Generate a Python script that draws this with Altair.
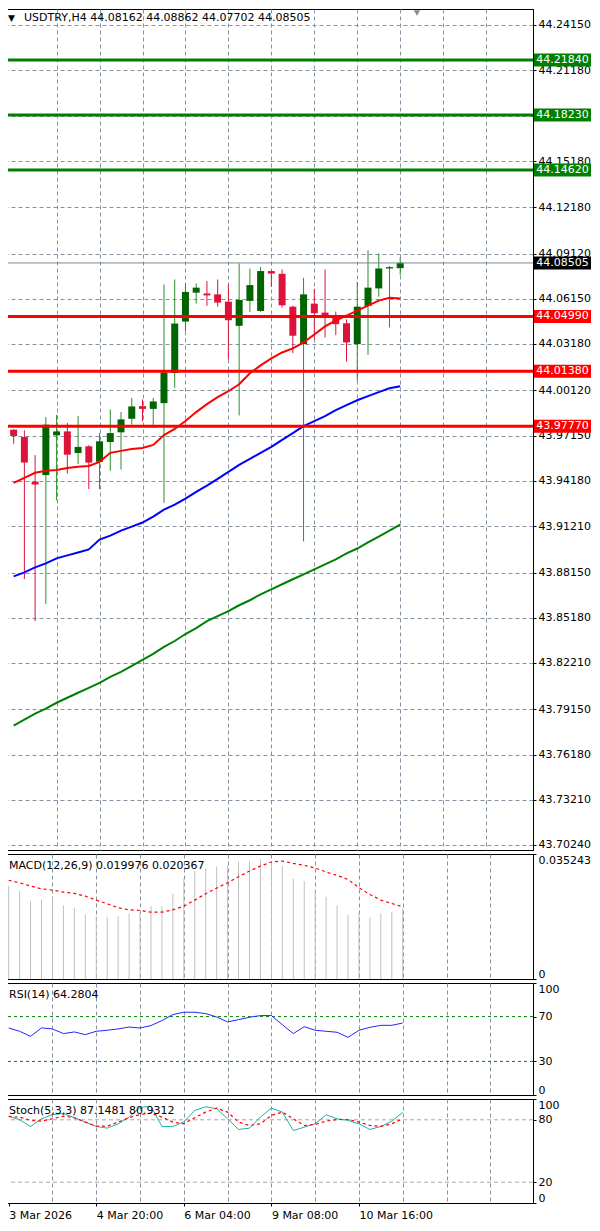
import altair as alt
import pandas as pd

# ---- candles (USDTRY H4) ----
OPEN = [43.9754, 43.9706, 43.9412, 43.9456, 43.9717, 43.9743, 43.9601, 43.9645, 43.9543, 43.9673,
        43.9737, 43.9826, 43.9909, 43.9891, 43.9929, 44.0127, 44.0465, 44.0655, 44.0650, 44.0644,
        44.0596, 44.0437, 44.0601, 44.0535, 44.0797, 44.0779, 44.0563, 44.0317, 44.0583, 44.0524,
        44.0498, 44.0454, 44.0317, 44.0568, 44.0683, 44.0814, 44.08162]
HIGH = [43.9759, 43.9750, 43.9587, 43.9837, 43.9852, 43.9798, 43.9844, 43.9652, 43.9732, 43.9887,
        43.9870, 43.9963, 43.9953, 43.9963, 44.0709, 44.0742, 44.0714, 44.0716, 44.0731, 44.0742,
        44.0709, 44.0847, 44.0814, 44.0825, 44.0801, 44.0807, 44.0570, 44.0753, 44.0681, 44.0807,
        44.0531, 44.0480, 44.0725, 44.0934, 44.0912, 44.0830, 44.08862]
LOW = [43.9662, 43.8772, 43.8496, 43.8609, 43.9289, 43.9466, 43.9528, 43.9364, 43.9364, 43.9484,
       43.9492, 43.9787, 43.9809, 43.9767, 43.9274, 44.0029, 44.0400, 44.0583, 44.0568, 44.0563,
       44.0215, 43.9848, 44.0529, 44.0529, 44.0694, 44.0557, 44.0258, 43.9019, 44.0349, 44.0361,
       44.0376, 44.0202, 44.0077, 44.0245, 44.0629, 44.0426, 44.07702]
CLOSE = [43.9713, 43.9538, 43.9394, 43.9787, 43.9743, 43.9590, 43.9641, 43.9538, 43.9678, 43.9732,
         43.9822, 43.9907, 43.9891, 43.9940, 44.0131, 44.0452, 44.0660, 44.0688, 44.0637, 44.0590,
         44.0474, 44.0607, 44.0705, 44.0797, 44.0781, 44.0572, 44.0372, 44.0644, 44.0520, 44.0491,
         44.0448, 44.0328, 44.0563, 44.0688, 44.0814, 44.0823, 44.08505]

# moving averages
MA_RED = [43.9405, 43.9438, 43.9471, 43.9484, 43.9490, 43.9503, 43.9510, 43.9516, 43.9543, 43.9602,
          43.9615, 43.9628, 43.9634, 43.9654, 43.9719, 43.9759, 43.9811, 43.9870, 43.9922, 43.9968,
          44.0007, 44.0053, 44.0125, 44.0177, 44.0223, 44.0262, 44.0289, 44.0328, 44.0380, 44.0433,
          44.0472, 44.0504, 44.0537, 44.0570, 44.0603, 44.0622, 44.0616]
MA_BLUE = [43.8790, 43.8816, 43.8849, 43.8875, 43.8908, 43.8928, 43.8947, 43.8967, 43.9032, 43.9058,
           43.9091, 43.9117, 43.9144, 43.9183, 43.9229, 43.9261, 43.9301, 43.9346, 43.9386, 43.9431,
           43.9477, 43.9523, 43.9562, 43.9602, 43.9641, 43.9687, 43.9732, 43.9778, 43.9811, 43.9844,
           43.9883, 43.9916, 43.9948, 43.9975, 44.0001, 44.0027, 44.0040]
MA_GREEN = [43.7809, 43.7848, 43.7887, 43.7920, 43.7959, 43.7992, 43.8025, 43.8057, 43.8090, 43.8129,
            43.8162, 43.8201, 43.8241, 43.8280, 43.8326, 43.8365, 43.8411, 43.8450, 43.8496, 43.8528,
            43.8561, 43.8600, 43.8633, 43.8672, 43.8705, 43.8738, 43.8771, 43.8803, 43.8836, 43.8869,
            43.8901, 43.8941, 43.8973, 43.9013, 43.9052, 43.9091, 43.9130]

# horizontal levels
RESISTANCE = [44.2184, 44.1823, 44.1462]
SUPPORT = [44.0499, 44.0138, 43.9777]
LAST_PRICE = 44.08505

# indicators
MACD_HIST = [0.0262, 0.02478, 0.02196, 0.02243, 0.02290, 0.02073, 0.02007, 0.01809, 0.01772, 0.01743,
             0.01772, 0.01847, 0.01885, 0.02054, 0.02054, 0.02403, 0.02827, 0.03044, 0.03119, 0.03166,
             0.03213, 0.03307, 0.03326, 0.03373, 0.03326, 0.03185, 0.02827, 0.02761, 0.02525, 0.02318,
             0.02073, 0.01809, 0.01866, 0.01734, 0.01847, 0.01894, 0.019976]
MACD_SIGNAL = [0.02780, 0.02714, 0.02620, 0.02544, 0.02506, 0.02450, 0.02412, 0.02337, 0.02224, 0.02120,
               0.02007, 0.01951, 0.01932, 0.01885, 0.01885, 0.01951, 0.02054, 0.02224, 0.02403, 0.02563,
               0.02714, 0.02884, 0.03044, 0.03185, 0.03298, 0.03326, 0.03260, 0.03204, 0.03128, 0.03015,
               0.02921, 0.02808, 0.02572, 0.02384, 0.02224, 0.02130, 0.020367]
RSI = [59.8, 56.9, 52.4, 59.9, 59.0, 54.8, 56.3, 53.9, 56.9, 57.8,
       59.0, 60.7, 59.8, 62.0, 66.4, 71.8, 73.9, 73.9, 72.7, 69.7,
       65.2, 67.3, 69.4, 70.9, 70.9, 62.8, 54.8, 61.0, 57.8, 56.9,
       56.0, 51.5, 57.8, 60.4, 62.2, 62.2, 64.28]
STOCH_MAIN = [83.5, 80.0, 73.6, 81.0, 85.0, 86.0, 82.0, 77.8, 73.6, 72.0,
              76.0, 82.6, 92.0, 93.0, 73.6, 73.6, 78.0, 89.0, 92.5, 90.6,
              81.0, 70.7, 72.0, 82.6, 91.2, 87.4, 69.7, 72.9, 76.2, 84.8,
              81.0, 79.4, 76.2, 70.7, 73.6, 78.7, 87.15]
STOCH_SIGNAL = [83.2, 82.6, 79.4, 78.7, 81.0, 83.5, 82.0, 77.8, 73.9, 73.9,
                77.8, 82.0, 85.1, 86.4, 82.6, 77.8, 76.2, 82.0, 87.4, 91.2,
                87.4, 77.8, 74.5, 76.2, 84.2, 87.4, 81.0, 74.5, 75.5, 78.7,
                80.3, 80.3, 77.8, 74.5, 73.6, 76.2, 80.93]

PRICE_TICKS = [44.2415, 44.2118, 44.1815, 44.1518, 44.1218, 44.0912, 44.0615, 44.0318, 44.0012,
               43.9715, 43.9418, 43.9121, 43.8815, 43.8518, 43.8221, 43.7915, 43.7618, 43.7321, 43.7024]
TIME_LABELS = {0: "3 Mar 2026", 8: "4 Mar 20:00", 16: "6 Mar 04:00", 24: "9 Mar 08:00", 32: "10 Mar 16:00"}

HEADER = "USDTRY,H4  44.08162 44.08862 44.07702 44.08505"
MACD_TITLE = "MACD(12,26,9) 0.019976 0.020367"
RSI_TITLE = "RSI(14) 64.2804"
STOCH_TITLE = "Stoch(5,3,3) 87.1481 80.9312"

# ---- layout / style ----
W = 526
H_MAIN, H_MACD, H_RSI, H_STOCH = 841, 125, 112, 104
X_DOMAIN = [-0.153, 47.9]
PRICE_DOMAIN = [43.6991, 44.2520]
FONT = "DejaVu Sans"
GRID = "#8592A0"
GRID_X = list(range(4, 48, 4))
UP_WICK, UP_BODY, DOWN = "#2A8F2A", "#006400", "#DC143C"
BOX_W = 57
BOX_PATH = "M-1,-0.228L1,-0.228L1,0.228L-1,0.228Z"

n = len(OPEN)
idx = list(range(n))

candles = pd.DataFrame({"i": idx, "open": OPEN, "high": HIGH, "low": LOW, "close": CLOSE})
candles["dir"] = ["up" if c >= o else "down" for o, c in zip(OPEN, CLOSE)]

ma = pd.concat([
    pd.DataFrame({"i": idx, "v": MA_RED, "ma": "red"}),
    pd.DataFrame({"i": idx, "v": MA_BLUE, "ma": "blue"}),
    pd.DataFrame({"i": idx, "v": MA_GREEN, "ma": "green"}),
])

levels = pd.DataFrame({
    "p": RESISTANCE + SUPPORT + [LAST_PRICE],
    "kind": ["res"] * len(RESISTANCE) + ["sup"] * len(SUPPORT) + ["cur"],
})
levels["label"] = [f"{p:.5f}" for p in levels["p"]]

ind = pd.DataFrame({"i": idx, "hist": MACD_HIST, "sig": MACD_SIGNAL, "rsi": RSI,
                    "k": STOCH_MAIN, "d": STOCH_SIGNAL})

x_scale = alt.Scale(domain=X_DOMAIN, nice=False, zero=False)
grid_axis = alt.Axis(values=GRID_X, grid=True, labels=False, ticks=False, domain=False,
                     gridDash=[4, 3], gridColor=GRID, gridWidth=1, title=None)


def X(axis=grid_axis):
    return alt.X("i:Q", scale=x_scale, axis=axis)


# ---- main price panel ----
p_scale = alt.Scale(domain=PRICE_DOMAIN, nice=False, zero=False)
p_axis = alt.Axis(orient="right", values=PRICE_TICKS, format=".5f", grid=True, gridDash=[4, 3],
                  gridColor=GRID, tickSize=3, labelPadding=2, title=None, labelOverlap=False)


def P(field):
    return alt.Y(field, scale=p_scale, axis=p_axis)


wick_color = alt.Color("dir:N", scale=alt.Scale(domain=["up", "down"], range=[UP_WICK, DOWN]), legend=None)
body_color = alt.Color("dir:N", scale=alt.Scale(domain=["up", "down"], range=[UP_BODY, DOWN]), legend=None)
kind_color = alt.Color("kind:N", scale=alt.Scale(domain=["res", "sup", "cur"],
                                                 range=["#008000", "#FF0000", "#000000"]), legend=None)

wicks = alt.Chart(candles).mark_rule(strokeWidth=1, clip=True).encode(
    x=X(), y=P("low:Q"), y2="high:Q", color=wick_color)
bodies = alt.Chart(candles).mark_bar(size=7, clip=True).encode(
    x=X(), y=P("open:Q"), y2="close:Q", color=body_color)
ma_lines = alt.Chart(ma).mark_line(strokeWidth=2, clip=True).encode(
    x=X(), y=P("v:Q"),
    color=alt.Color("ma:N", scale=alt.Scale(domain=["red", "blue", "green"],
                                            range=["#FF0000", "#0000FF", "#008000"]), legend=None))
cur_line = alt.Chart(levels[levels.kind == "cur"]).mark_rule(color="#778899", strokeWidth=1, clip=True).encode(
    y=P("p:Q"))
level_lines = alt.Chart(levels[levels.kind != "cur"]).mark_rule(strokeWidth=3, clip=True).encode(
    y=P("p:Q"), color=kind_color)
boxes = alt.Chart(levels).mark_point(shape=BOX_PATH, size=BOX_W * BOX_W, filled=True, opacity=1,
                                     strokeWidth=0).encode(
    x=alt.value(W + 1 + BOX_W / 2), y=P("p:Q"), color=kind_color)
box_text = alt.Chart(levels).mark_text(align="center", baseline="middle", font=FONT, fontSize=11,
                                       color="white").encode(
    x=alt.value(W + 1 + BOX_W / 2), y=P("p:Q"), text="label:N")

hdr = pd.DataFrame({"t": [HEADER], "a": ["\u25bc"]})
header = alt.Chart(hdr).mark_text(align="left", baseline="middle", font=FONT, fontSize=11,
                                  color="#000000").encode(x=alt.value(17), y=alt.value(9), text="t:N")
header_arrow = alt.Chart(hdr).mark_text(align="left", baseline="middle", font=FONT, fontSize=9,
                                        color="#000000").encode(x=alt.value(1), y=alt.value(9), text="a:N")
shift_mark = alt.Chart(hdr).mark_point(shape="triangle-down", size=40, filled=True, color="#7F8C9A",
                                       opacity=1).encode(x=alt.value(410), y=alt.value(4))

main = alt.layer(wicks, bodies, ma_lines, cur_line, level_lines, boxes, box_text,
                 header_arrow, header, shift_mark).resolve_scale(color="independent").properties(
    width=W, height=H_MAIN)


def panel_title(text):
    return alt.Chart(pd.DataFrame({"t": [text]})).mark_text(
        align="left", baseline="middle", font=FONT, fontSize=11, color="#000000"
    ).encode(x=alt.value(2), y=alt.value(12), text="t:N")


# ---- MACD ----
m_scale = alt.Scale(domain=[0, 0.035243], nice=False, zero=False)
m_axis = alt.Axis(orient="right", values=[0, 0.035243], grid=False, tickSize=3, labelPadding=2,
                  labelFlush=True, title=None,
                  labelExpr="datum.value == 0 ? '0' : format(datum.value, '.6f')")
macd_hist = alt.Chart(ind).mark_rule(color="#C0C0C0", strokeWidth=1).encode(
    x=X(), y=alt.Y("hist:Q", scale=m_scale, axis=m_axis), y2=alt.datum(0))
macd_sig = alt.Chart(ind).mark_line(color="#FF0000", strokeDash=[3, 3], strokeWidth=1.2).encode(
    x=X(), y=alt.Y("sig:Q", scale=m_scale, axis=m_axis))
macd = alt.layer(macd_hist, macd_sig, panel_title(MACD_TITLE)).properties(width=W, height=H_MACD)

# ---- RSI ----
pct_scale = alt.Scale(domain=[0, 100], nice=False, zero=False)
r_axis = alt.Axis(orient="right", values=[0, 30, 70, 100], grid=False, tickSize=3, labelPadding=2,
                  labelFlush=True, title=None)
rsi_levels = alt.Chart(pd.DataFrame({"v": [70, 30]})).mark_rule(
    color="#008000", strokeDash=[3, 3], strokeWidth=1).encode(y=alt.Y("v:Q", scale=pct_scale, axis=r_axis))
rsi_line = alt.Chart(ind).mark_line(color="#2424FF", strokeWidth=1).encode(
    x=X(), y=alt.Y("rsi:Q", scale=pct_scale, axis=r_axis))
rsi = alt.layer(rsi_levels, rsi_line, panel_title(RSI_TITLE)).properties(width=W, height=H_RSI)

# ---- Stochastic + time axis ----
expr = "".join(f"datum.value == {k} ? '{v}' : " for k, v in TIME_LABELS.items()) + "''"
time_axis = alt.Axis(
    values=[0] + GRID_X, grid=True, gridDash=[4, 3], labels=True, labelExpr=expr,
    gridColor={"condition": {"test": "datum.value === 0", "value": "transparent"}, "value": GRID},
    tickColor={"condition": {"test": f"datum.value % 8 === 0 && datum.value <= {max(TIME_LABELS)}",
                             "value": "black"}, "value": "transparent"},
    tickSize=3, labelPadding=3, labelAlign="left", labelFlush=False, labelOverlap=False,
    domain=False, title=None)
s_axis = alt.Axis(orient="right", values=[0, 20, 80, 100], grid=False, tickSize=3, labelPadding=2,
                  labelFlush=True, title=None)
st_levels = alt.Chart(pd.DataFrame({"v": [80, 20]})).mark_rule(
    color="#A9A9A9", strokeDash=[4, 3], strokeWidth=1).encode(y=alt.Y("v:Q", scale=pct_scale, axis=s_axis))
st_k = alt.Chart(ind).mark_line(color="#20B2AA", strokeWidth=1).encode(
    x=X(time_axis), y=alt.Y("k:Q", scale=pct_scale, axis=s_axis))
st_d = alt.Chart(ind).mark_line(color="#FF0000", strokeDash=[3, 3], strokeWidth=1.2).encode(
    x=X(time_axis), y=alt.Y("d:Q", scale=pct_scale, axis=s_axis))
stoch = alt.layer(st_levels, st_k, st_d, panel_title(STOCH_TITLE)).properties(width=W, height=H_STOCH)

# negative left padding trims the few pixels that clipped strokes push left of the panels
chart = alt.vconcat(main, macd, rsi, stoch, spacing=4, bounds="flush").properties(
    padding={"left": -3, "top": 0, "right": 0, "bottom": 0}, background="white"
).configure_view(stroke="black", strokeWidth=1).configure_axis(
    labelFont=FONT, labelFontSize=11, labelColor="black", tickColor="black",
    domainColor="black", titleFont=FONT
)

chart.save("out.html", embed_options={"renderer": "svg", "actions": False})
